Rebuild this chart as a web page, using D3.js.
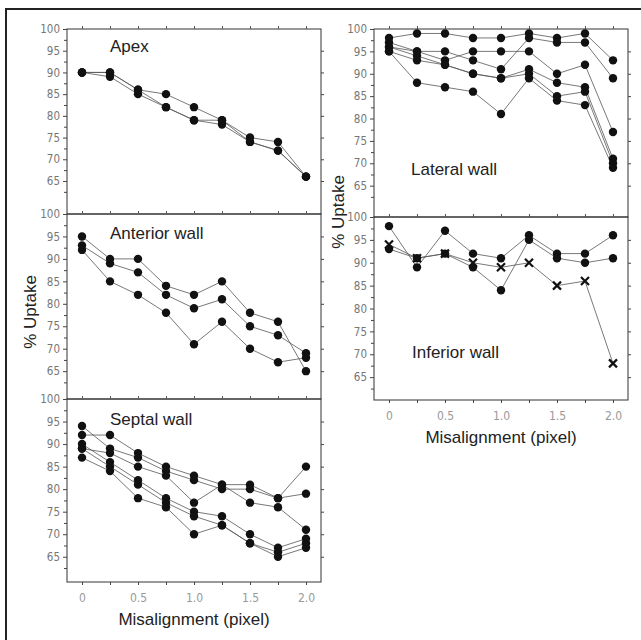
<!DOCTYPE html>
<html><head><meta charset="utf-8">
<script src="https://cdn.jsdelivr.net/npm/d3@7"></script>
<style>
html,body{margin:0;padding:0;background:#fff;}
svg{display:block;}
</style></head>
<body>
<svg id="chart" width="641" height="640"></svg>
<script>
// ---------- data ----------
const xValues = [0, 0.25, 0.5, 0.75, 1.0, 1.25, 1.5, 1.75, 2.0];
const xTickValues = [0, 0.5, 1.0, 1.5, 2.0];
const xTickLabels = ["0", "0.5", "1.0", "1.5", "2.0"];
const yTickValues = [65, 70, 75, 80, 85, 90, 95, 100];
const yMinorTicks = [62.5, 67.5, 72.5, 77.5, 82.5, 87.5, 92.5, 97.5];

const apexSeries = [
  [90, 90, 86, 85, 82, 79, 75, 74, 66],
  [90, 89, 85, 82, 79, 78, 74, 72, 66],
  [90, 90, 86, 82, 79, 79, 74, 72, 66]
];
const anteriorSeries = [
  [95, 90, 90, 84, 82, 85, 78, 76, 65],
  [93, 89, 87, 82, 79, 81, 75, 73, 69],
  [92, 85, 82, 78, 71, 76, 70, 67, 68]
];
const septalSeries = [
  [92, 92, 88, 85, 83, 81, 81, 78, 85],
  [94, 89, 87, 84, 82, 80, 80, 78, 79],
  [89, 88, 85, 83, 77, 81, 77, 76, 71],
  [90, 86, 82, 78, 75, 74, 70, 67, 69],
  [89, 85, 81, 77, 74, 72, 68, 66, 68],
  [87, 84, 78, 76, 70, 72, 68, 65, 67]
];
const lateralSeries = [
  [98, 99, 99, 98, 98, 99, 98, 99, 93],
  [97, 95, 95, 93, 91, 98, 97, 97, 89],
  [96, 95, 93, 95, 95, 95, 90, 92, 77],
  [96, 94, 92, 90, 89, 91, 88, 87, 71],
  [95, 93, 92, 90, 89, 90, 85, 86, 70],
  [95, 88, 87, 86, 81, 89, 84, 83, 69]
];
const inferiorCircleSeries = [
  [98, 89, 97, 92, 91, 96, 92, 92, 96],
  [93, 91, 92, 89, 84, 95, 91, 90, 91]
];
const inferiorCrossSeries = [
  [94, 91, 92, 90, 89, 90, 85, 86, 68]
];
const panelTitles = ["Apex", "Anterior wall", "Septal wall", "Lateral wall", "Inferior wall"];
const yAxisTitle = "% Uptake";
const xAxisTitle = "Misalignment (pixel)";

// ---------- layout ----------
const svg = d3.select("#chart");
const W = 254;
const panels = [
  {title: panelTitles[0], circles: apexSeries, crosses: [], left: 67, top: 29, bottom: 214, yMin: 57.4, bottomAxis: false, tx: 43, ty: 23},
  {title: panelTitles[1], circles: anteriorSeries, crosses: [], left: 67, top: 214, bottom: 399, yMin: 58.8, bottomAxis: false, tx: 43, ty: 25},
  {title: panelTitles[2], circles: septalSeries, crosses: [], left: 67, top: 399, bottom: 582, yMin: 59.4, bottomAxis: true, tx: 43, ty: 26},
  {title: panelTitles[3], circles: lateralSeries, crosses: [], left: 374, top: 29, bottom: 217, yMin: 58, bottomAxis: false, tx: 37, ty: 146},
  {title: panelTitles[4], circles: inferiorCircleSeries, crosses: inferiorCrossSeries, left: 374, top: 217, bottom: 400, yMin: 60, bottomAxis: true, tx: 38, ty: 141}
];

// outer frame
svg.append("rect").attr("x", 6).attr("y", 9).attr("width", 660).attr("height", 660)
  .attr("fill", "none").attr("stroke", "#222").attr("stroke-width", 2);

const tickFont = "'Liberation Sans Narrow','DejaVu Sans Condensed',sans-serif";
const mainFont = "'Liberation Sans',Arial,sans-serif";

panels.forEach(p => {
  const H = p.bottom - p.top;
  const x = d3.scaleLinear().domain([-0.134, 2.134]).range([0, W]);
  const y = d3.scaleLinear().domain([p.yMin, 100]).range([H, 0]);
  const g = svg.append("g").attr("transform", `translate(${p.left},${p.top})`);

  // frame
  g.append("rect").attr("x", 0).attr("y", 0).attr("width", W).attr("height", H)
    .attr("fill", "none").attr("stroke", "#333").attr("stroke-width", 1);

  // left axis (major, labelled)
  const la = g.append("g").call(d3.axisLeft(y).tickValues(yTickValues).tickSize(4).tickPadding(3)
      .tickFormat(d3.format("d")));
  la.select(".domain").remove();
  la.selectAll("line").attr("stroke", "#444");
  la.selectAll("text").attr("font-family", tickFont).attr("font-size", 11.5).attr("fill", "#777");
  // left minor
  const lm = g.append("g").call(d3.axisLeft(y).tickValues(yMinorTicks.filter(v => v > p.yMin)).tickSize(3).tickFormat(""));
  lm.select(".domain").remove();
  lm.selectAll("line").attr("stroke", "#444");
  // right axis
  const ra = g.append("g").attr("transform", `translate(${W},0)`)
    .call(d3.axisRight(y).tickValues(yTickValues.slice(0, -1)).tickSize(3).tickFormat(""));
  ra.select(".domain").remove();
  ra.selectAll("line").attr("stroke", "#444");
  // top axis
  const ta = g.append("g").call(d3.axisTop(x).tickValues(xValues).tickSize(3).tickFormat(""));
  ta.select(".domain").remove();
  ta.selectAll("line").attr("stroke", "#555");

  if (p.bottomAxis) {
    const ba = g.append("g").attr("transform", `translate(0,${H})`)
      .call(d3.axisBottom(x).tickValues(xValues).tickSize(3).tickFormat(""));
    ba.select(".domain").remove();
    ba.selectAll("line").attr("stroke", "#444");
    const bl = g.append("g").attr("transform", `translate(0,${H})`)
      .call(d3.axisBottom(x).tickValues(xTickValues).tickSize(0).tickPadding(11)
        .tickFormat((d, i) => xTickLabels[i]));
    bl.select(".domain").remove();
    bl.selectAll("text").attr("font-family", tickFont).attr("font-size", 12).attr("fill", "#999");
    g.append("text").attr("x", W / 2).attr("y", H + 43).attr("text-anchor", "middle")
      .attr("font-family", mainFont).attr("font-size", 17).attr("fill", "#222").text(xAxisTitle);
  }

  // title
  g.append("text").attr("x", p.tx).attr("y", p.ty).attr("font-family", mainFont)
    .attr("font-size", 17).attr("fill", "#222").text(p.title);

  const line = d3.line().x((d, i) => x(xValues[i])).y(d => y(d));
  const all = p.circles.concat(p.crosses);
  g.selectAll("path.series").data(all).enter().append("path")
    .attr("class", "series").attr("d", line)
    .attr("fill", "none").attr("stroke", "#555").attr("stroke-width", 0.8);

  p.circles.forEach(s => {
    g.selectAll(null).data(s).enter().append("circle")
      .attr("cx", (d, i) => x(xValues[i])).attr("cy", d => y(d)).attr("r", 4.2)
      .attr("fill", "#111");
  });
  p.crosses.forEach(s => {
    g.selectAll(null).data(s).enter().append("path")
      .attr("transform", (d, i) => `translate(${x(xValues[i])},${y(d)})`)
      .attr("d", "M-4,-4L4,4M-4,4L4,-4")
      .attr("stroke", "#111").attr("stroke-width", 2.2).attr("fill", "none");
  });
});

// y axis titles
svg.append("text").attr("transform", "translate(36,312) rotate(-90)").attr("text-anchor", "middle")
  .attr("font-family", mainFont).attr("font-size", 17).attr("fill", "#222").text(yAxisTitle);
svg.append("text").attr("transform", "translate(344,212) rotate(-90)").attr("text-anchor", "middle")
  .attr("font-family", mainFont).attr("font-size", 17).attr("fill", "#222").text(yAxisTitle);
</script>
</body></html>
